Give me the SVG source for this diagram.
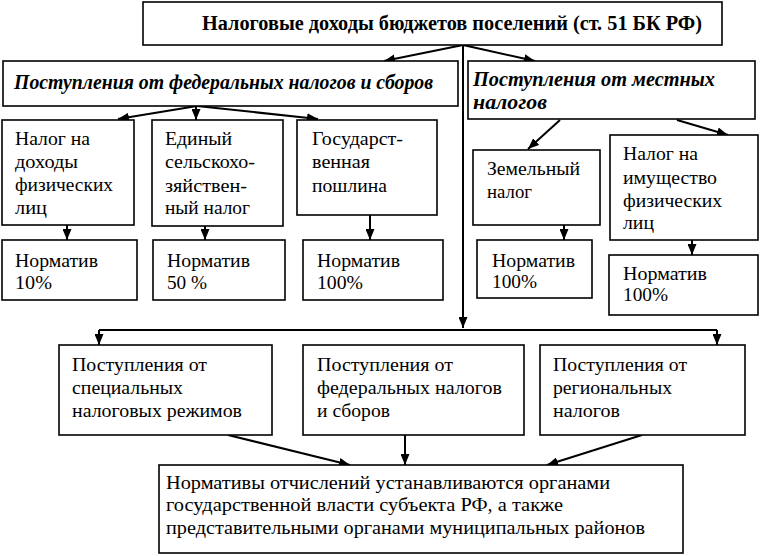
<svg xmlns="http://www.w3.org/2000/svg" width="760" height="556" viewBox="0 0 760 556">
<defs>
<marker id="ah" markerUnits="userSpaceOnUse" markerWidth="11" markerHeight="9" refX="11" refY="4.5" orient="auto">
<path d="M0,0 L11,4.5 L0,9 z" fill="#000"/>
</marker>
<style>
rect.b{fill:#fff;stroke:#000;stroke-width:1.6}
text{font-size:18.5px;fill:#000}
text.t{font-weight:bold;font-size:20px}
text.i{font-weight:bold;font-style:italic;font-size:20px}
#conn line{stroke:#000;stroke-width:2;fill:none}
</style>
</defs>
<rect width="760" height="556" fill="#fff"/>
<g font-family="Liberation Serif, serif">
<g id="conn">
<line x1="463" y1="45" x2="463" y2="328" marker-end="url(#ah)"/>
<line x1="463" y1="45" x2="384" y2="61" marker-end="url(#ah)"/>
<line x1="463" y1="45" x2="535" y2="61" marker-end="url(#ah)"/>
<line x1="197" y1="106" x2="118" y2="119" marker-end="url(#ah)"/>
<line x1="196" y1="106" x2="196" y2="120" marker-end="url(#ah)"/>
<line x1="197" y1="106" x2="318" y2="119" marker-end="url(#ah)"/>
<line x1="67" y1="225" x2="67" y2="240" marker-end="url(#ah)"/>
<line x1="205" y1="226" x2="205" y2="240" marker-end="url(#ah)"/>
<line x1="370" y1="215" x2="370" y2="240" marker-end="url(#ah)"/>
<line x1="560" y1="120" x2="528" y2="149" marker-end="url(#ah)"/>
<line x1="677" y1="120" x2="728" y2="135" marker-end="url(#ah)"/>
<line x1="564" y1="225" x2="564" y2="240" marker-end="url(#ah)"/>
<line x1="692" y1="240" x2="692" y2="255" marker-end="url(#ah)"/>
<line x1="99" y1="330" x2="717" y2="330"/>
<line x1="99" y1="330" x2="99" y2="345" marker-end="url(#ah)"/>
<line x1="717" y1="330" x2="717" y2="345" marker-end="url(#ah)"/>
<line x1="228" y1="435" x2="350" y2="465" marker-end="url(#ah)"/>
<line x1="405" y1="435" x2="405" y2="465" marker-end="url(#ah)"/>
<line x1="642" y1="435" x2="547" y2="465" marker-end="url(#ah)"/>
</g>

<g id="n-top">
<rect class="b" x="143" y="2" width="579" height="43"/>
<text class="t" x="202" y="30" textLength="500" lengthAdjust="spacingAndGlyphs">Налоговые доходы бюджетов поселений (ст. 51 БК РФ)</text>
</g>

<g id="n-fed">
<rect class="b" x="3" y="61" width="455" height="45"/>
<text class="i" x="14" y="89" textLength="419" lengthAdjust="spacingAndGlyphs">Поступления от федеральных налогов и сборов</text>
</g>

<g id="n-loc">
<rect class="b" x="468" y="61" width="287" height="58"/>
<text class="i" x="473" y="86" textLength="242" lengthAdjust="spacingAndGlyphs">Поступления от местных</text>
<text class="i" x="473" y="109" textLength="74" lengthAdjust="spacingAndGlyphs">налогов</text>
</g>

<g id="n-ndfl">
<rect class="b" x="2" y="120" width="132" height="105"/>
<text x="15" y="145" textLength="75" lengthAdjust="spacingAndGlyphs">Налог на</text>
<text x="15" y="168" textLength="63" lengthAdjust="spacingAndGlyphs">доходы</text>
<text x="15" y="191" textLength="98" lengthAdjust="spacingAndGlyphs">физических</text>
<text x="15" y="214" textLength="32" lengthAdjust="spacingAndGlyphs">лиц</text>
</g>

<g id="n-esn">
<rect class="b" x="152" y="120" width="131" height="106"/>
<text x="165" y="145" textLength="67" lengthAdjust="spacingAndGlyphs">Единый</text>
<text x="165" y="168" textLength="90" lengthAdjust="spacingAndGlyphs">сельскохо-</text>
<text x="165" y="192" textLength="82" lengthAdjust="spacingAndGlyphs">зяйствен-</text>
<text x="165" y="214" textLength="85" lengthAdjust="spacingAndGlyphs">ный налог</text>
</g>

<g id="n-gp">
<rect class="b" x="297" y="120" width="140" height="95"/>
<text x="312" y="145" textLength="91" lengthAdjust="spacingAndGlyphs">Государст-</text>
<text x="312" y="168" textLength="58" lengthAdjust="spacingAndGlyphs">венная</text>
<text x="312" y="192" textLength="75" lengthAdjust="spacingAndGlyphs">пошлина</text>
</g>

<g id="n-norm1">
<rect class="b" x="2" y="240" width="135" height="60"/>
<text x="15" y="267" textLength="83" lengthAdjust="spacingAndGlyphs">Норматив</text>
<text x="15" y="289" textLength="37" lengthAdjust="spacingAndGlyphs">10%</text>
</g>

<g id="n-norm2">
<rect class="b" x="153" y="240" width="132" height="60"/>
<text x="167" y="267" textLength="83" lengthAdjust="spacingAndGlyphs">Норматив</text>
<text x="167" y="289" textLength="40" lengthAdjust="spacingAndGlyphs">50 %</text>
</g>

<g id="n-norm3">
<rect class="b" x="303" y="240" width="140" height="60"/>
<text x="317" y="267" textLength="83" lengthAdjust="spacingAndGlyphs">Норматив</text>
<text x="317" y="289" textLength="46" lengthAdjust="spacingAndGlyphs">100%</text>
</g>

<g id="n-zem">
<rect class="b" x="473" y="150" width="127" height="75"/>
<text x="487" y="175" textLength="93" lengthAdjust="spacingAndGlyphs">Земельный</text>
<text x="487" y="198" textLength="45" lengthAdjust="spacingAndGlyphs">налог</text>
</g>

<g id="n-im">
<rect class="b" x="610" y="135" width="148" height="105"/>
<text x="623" y="160" textLength="75" lengthAdjust="spacingAndGlyphs">Налог на</text>
<text x="623" y="184" textLength="94" lengthAdjust="spacingAndGlyphs">имущество</text>
<text x="623" y="207" textLength="99" lengthAdjust="spacingAndGlyphs">физических</text>
<text x="623" y="229" textLength="31" lengthAdjust="spacingAndGlyphs">лиц</text>
</g>

<g id="n-norm4">
<rect class="b" x="477" y="240" width="115" height="58"/>
<text x="492" y="267" textLength="83" lengthAdjust="spacingAndGlyphs">Норматив</text>
<text x="492" y="288" textLength="45" lengthAdjust="spacingAndGlyphs">100%</text>
</g>

<g id="n-norm5">
<rect class="b" x="609" y="255" width="149" height="60"/>
<text x="623" y="280" textLength="84" lengthAdjust="spacingAndGlyphs">Норматив</text>
<text x="623" y="301" textLength="45" lengthAdjust="spacingAndGlyphs">100%</text>
</g>

<g id="n-spec">
<rect class="b" x="59" y="345" width="213" height="90"/>
<text x="72" y="371" textLength="135" lengthAdjust="spacingAndGlyphs">Поступления от</text>
<text x="72" y="394" textLength="111" lengthAdjust="spacingAndGlyphs">специальных</text>
<text x="72" y="417" textLength="170" lengthAdjust="spacingAndGlyphs">налоговых режимов</text>
</g>

<g id="n-fed2">
<rect class="b" x="303" y="345" width="221" height="90"/>
<text x="317" y="371" textLength="136" lengthAdjust="spacingAndGlyphs">Поступления от</text>
<text x="317" y="394" textLength="185" lengthAdjust="spacingAndGlyphs">федеральных налогов</text>
<text x="317" y="417" textLength="73" lengthAdjust="spacingAndGlyphs">и сборов</text>
</g>

<g id="n-reg">
<rect class="b" x="540" y="345" width="205" height="90"/>
<text x="553" y="371" textLength="134" lengthAdjust="spacingAndGlyphs">Поступления от</text>
<text x="553" y="394" textLength="119" lengthAdjust="spacingAndGlyphs">региональных</text>
<text x="553" y="417" textLength="67" lengthAdjust="spacingAndGlyphs">налогов</text>
</g>

<g id="n-norms">
<rect class="b" x="159" y="465" width="524" height="88"/>
<text x="166" y="489" textLength="444" lengthAdjust="spacingAndGlyphs">Нормативы отчислений устанавливаются органами</text>
<text x="166" y="511" textLength="397" lengthAdjust="spacingAndGlyphs">государственной власти субъекта РФ, а также</text>
<text x="166" y="534" textLength="479" lengthAdjust="spacingAndGlyphs">представительными органами муниципальных районов</text>
</g>
</g>
</svg>
